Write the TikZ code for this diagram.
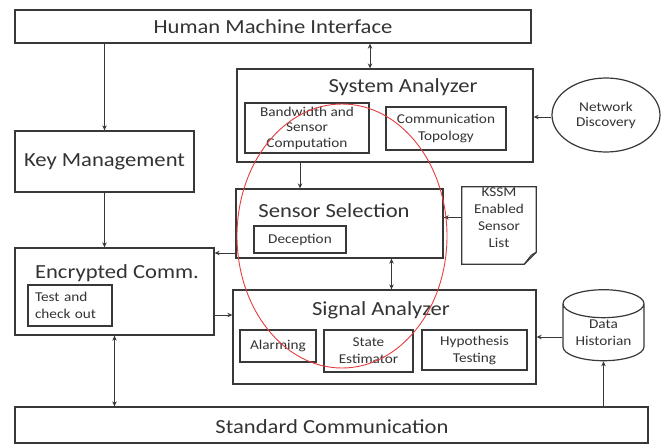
\documentclass[tikz,border=0pt]{standalone}
\usepackage{fontspec}
\setmainfont{Carlito}[FakeStretch=1.13]
\usepackage{xcolor}
\usepackage{tikz}
\usetikzlibrary{arrows.meta, shapes.geometric, calc}
\definecolor{boxline}{HTML}{383838}
\definecolor{boxtext}{HTML}{333333}
\definecolor{markred}{HTML}{E63E40}
\newcommand{\bigtxt}{\fontsize{20}{24}\selectfont}
\newcommand{\smalltxt}{\fontsize{13.5}{17}\selectfont}

\begin{document}
\begin{tikzpicture}[x=1pt, y=-1pt,
    >={Stealth[length=5pt, width=4.5pt]},
    blk/.style={draw=boxline, line width=1.3pt, inner sep=0pt, text=boxtext, font=\bigtxt},
    sub/.style={draw=boxline, line width=1.2pt, inner sep=1pt, align=center, text=boxtext, font=\smalltxt},
    ttl/.style={text=boxtext, font=\bigtxt, inner sep=0pt},
    arr/.style={->, draw=boxline, line width=1pt},
    darr/.style={<->, draw=boxline, line width=1pt}]
  \useasboundingbox[fill=white] (0,0) rectangle (665,445);

  % top and bottom bars
  \node[blk, minimum width=516pt, minimum height=33pt] (hmi) at (273,26.5) {Human Machine Interface};
  \node[blk, minimum width=633pt, minimum height=36pt] (stdcomm) at (331.5,425) {};
  \node[ttl] (stdtitle) at (332,427) {Standard Communication};

  % left column
  \node[blk, minimum width=179pt, minimum height=61pt] (keymgmt) at (104.5,161.5) {Key Management};
  \node[blk, minimum width=199pt, minimum height=87pt] (enc) at (114.5,291.5) {};
  \node[ttl] (enctitle) at (117,273) {Encrypted Comm.};
  \node[sub, minimum width=84pt, minimum height=41pt, text width=70pt, align=left] (testbox) at (70,305.5) {Test and\\check out};

  % system analyzer
  \node[blk, minimum width=296pt, minimum height=93pt] (sysan) at (385,115.5) {};
  \node[ttl] (sysantitle) at (403,87) {System Analyzer};
  \node[sub, minimum width=124pt, minimum height=50pt, font=\fontsize{13.5}{15.5}\selectfont] (bandwidth) at (307,128) {Bandwidth and\\Sensor\\Computation};
  \node[sub, minimum width=120pt, minimum height=43pt] (commtop) at (446,128.5) {Communication\\Topology};
  \node[ellipse, draw=boxline, line width=1.2pt, minimum width=108pt, minimum height=74pt, inner sep=0pt,
        align=center, text=boxtext, font=\fontsize{13.5}{15}\selectfont] (netdisc) at (606,115) {Network\\Discovery};

  % sensor selection
  \node[blk, minimum width=207pt, minimum height=69pt] (sensel) at (339.5,223.5) {};
  \node[ttl] (senseltitle) at (334,211) {Sensor Selection};
  \node[sub, minimum width=92pt, minimum height=27pt] (deception) at (300,239.5) {Deception};
  \node[align=center, text=boxtext, font=\smalltxt, minimum width=74pt, minimum height=77pt, inner sep=0pt,
        text depth=15pt] (kssm) at (499,225.5) {KSSM\\Enabled\\Sensor\\List};
  \draw[boxline, line width=1.2pt] (kssm.north west) -- (kssm.north east) -- ([yshift=12pt]kssm.south east)
    -- ([xshift=-12pt]kssm.south east) -- (kssm.south west) -- cycle;
  \draw[boxline, line width=1pt] ([yshift=12pt]kssm.south east) -- ([xshift=-5pt, yshift=9pt]kssm.south east)
    -- ([xshift=-12pt]kssm.south east);

  % signal analyzer
  \node[blk, minimum width=303pt, minimum height=94pt] (sigan) at (384.5,337) {};
  \node[ttl] (sigantitle) at (381,310) {Signal Analyzer};
  \node[sub, minimum width=76pt, minimum height=32pt] (alarm) at (278,346) {Alarming};
  \node[sub, minimum width=89pt, minimum height=42pt] (stateest) at (368.5,351) {State\\Estimator};
  \node[sub, minimum width=105pt, minimum height=40pt] (hypo) at (474.5,350) {Hypothesis\\Testing};
  \node[cylinder, shape border rotate=90, aspect=0.5, draw=boxline, line width=1.2pt, inner sep=0pt,
        minimum width=81pt, minimum height=71pt, align=center, text=boxtext, font=\smalltxt] (hist) at (603.5,332.5) {Data\\Historian};

  % connectors
  \draw[arr] (keymgmt.north |- hmi.south) -- (keymgmt.north);
  \draw[darr] ([xshift=-15pt]sysan.north |- hmi.south) -- ([xshift=-15pt]sysan.north);
  \draw[arr] ([yshift=-2pt]netdisc.west) -- ([yshift=-2pt]netdisc.west -| sysan.east);
  \draw[arr] (deception |- sysan.south) -- (deception |- sensel.north);
  \draw[arr] (keymgmt.south) -- (keymgmt.south |- enc.north);
  \draw[arr] ([yshift=8pt]kssm.west) -- ([yshift=8pt]kssm.west -| sensel.east);
  \draw[arr] ([yshift=-29.5pt]sensel.west) -- ([yshift=-29.5pt]sensel.west -| enc.east);
  \draw[darr] ([xshift=52pt]sensel.south) -- ([xshift=52pt]sensel.south |- sigan.north);
  \draw[arr] ([yshift=-23.5pt]enc.east) -- ([yshift=-23.5pt]enc.east -| sigan.west);
  \draw[arr] ([yshift=-4.5pt]hist.west) -- ([yshift=-4.5pt]hist.west -| sigan.east);
  \draw[arr] (hist.south |- stdcomm.north) -- (hist.south);
  \draw[darr] (enc.south) -- (enc.south |- stdcomm.north);

  % red highlight
  \draw[markred, line width=0.9pt] (342,236) ellipse [x radius=105, y radius=132];
\end{tikzpicture}
\end{document}
